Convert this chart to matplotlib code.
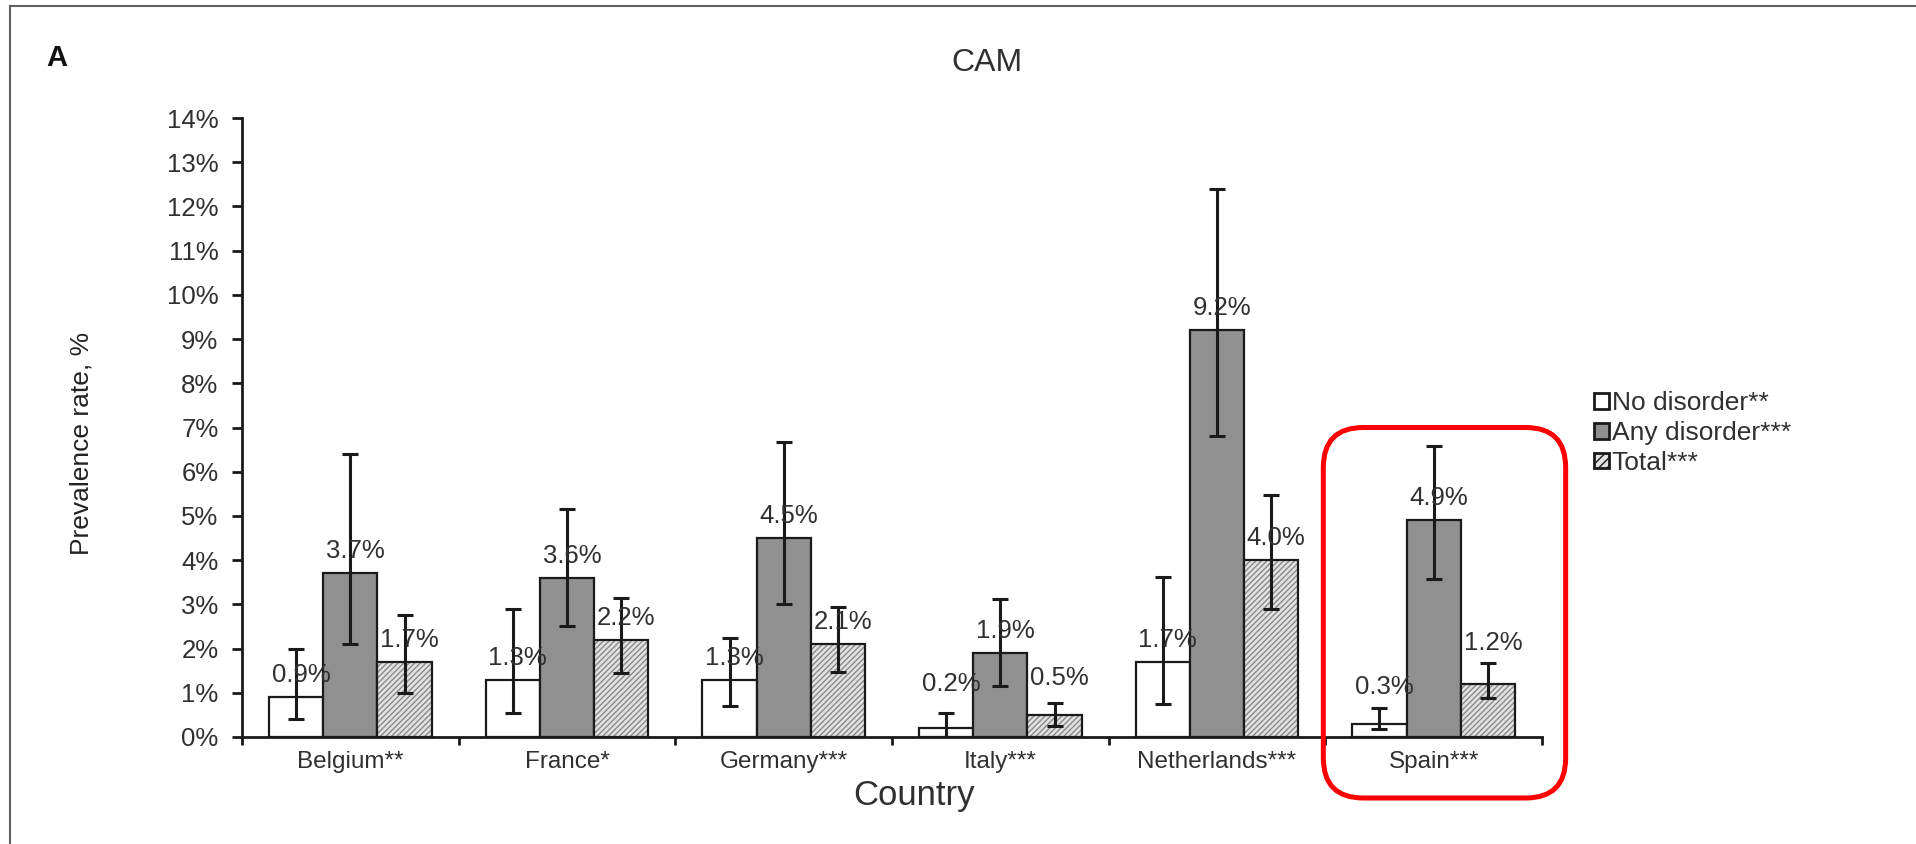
import matplotlib
matplotlib.use("Agg")
import matplotlib.pyplot as plt
from matplotlib.patches import FancyBboxPatch, Patch
from matplotlib.lines import Line2D
import numpy as np

plt.rcParams['font.family'] = ['Liberation Sans', 'DejaVu Sans']

# prevalence of CAM use per country, with 95% CI
countries = ['Belgium**', 'France*', 'Germany***', 'Italy***', 'Netherlands***', 'Spain***']
series = ['No disorder**', 'Any disorder***', 'Total***']

no_disorder = [0.9, 1.3, 1.3, 0.2, 1.7, 0.3]
no_disorder_lo = [0.4, 0.55, 0.7, 0.0, 0.75, 0.19]
no_disorder_hi = [2.0, 2.9, 2.25, 0.55, 3.62, 0.65]

any_disorder = [3.7, 3.6, 4.5, 1.9, 9.2, 4.9]
any_disorder_lo = [2.1, 2.5, 3.0, 1.15, 6.8, 3.57]
any_disorder_hi = [6.4, 5.15, 6.67, 3.12, 12.4, 6.58]

total = [1.7, 2.2, 2.1, 0.5, 4.0, 1.2]
total_lo = [1.0, 1.45, 1.46, 0.25, 2.9, 0.89]
total_hi = [2.75, 3.15, 2.93, 0.78, 5.47, 1.67]

ytick_vals = list(range(0, 15))

# extra lift (pixels) for the few labels that sit higher above their bars
label_lift = {(3, 0): 22, (3, 2): 15, (5, 0): 15, (5, 2): 19}

W, H = 1916, 844
fig = plt.figure(figsize=(W / 100, H / 100), dpi=100)
ax = fig.add_axes([242 / W, 1 - 737 / H, 1300 / W, (737 - 118) / H])

txt = '#303030'
x = np.arange(len(countries))
bw = 0.25
vals = [no_disorder, any_disorder, total]
los = [no_disorder_lo, any_disorder_lo, total_lo]
his = [no_disorder_hi, any_disorder_hi, total_hi]

# white, grey and hatched bars
ax.bar(x - bw, no_disorder, bw, color='white', edgecolor='#1a1a1a', linewidth=1.6, zorder=2)
ax.bar(x, any_disorder, bw, color='#909090', edgecolor='#1a1a1a', linewidth=1.6, zorder=2)
ax.bar(x + bw, total, bw, color='#e2e2e2', edgecolor='#8a8a8a', hatch='//////', linewidth=0, zorder=2)
ax.bar(x + bw, total, bw, fill=False, edgecolor='#1a1a1a', linewidth=1.6, zorder=3)

for k in range(3):
    v = np.array(vals[k])
    lo = np.array(los[k])
    hi = np.array(his[k])
    ax.errorbar(x + (k - 1) * bw, v, yerr=[v - lo, hi - v], fmt='none',
                ecolor='#1a1a1a', elinewidth=2.2, capsize=6, capthick=2.2, zorder=4)
    for i, val in enumerate(v):
        lift = label_lift.get((i, k), 0)
        ax.annotate(f'{val:.1f}%', (x[i] + (k - 1) * bw, val),
                    xytext=(3.6, (15 + lift) * 0.72), textcoords='offset points',
                    ha='center', va='baseline', fontsize=18.5, color=txt, zorder=5)

ax.set_xlim(-0.5, len(countries) - 0.5)
ax.set_ylim(0, 14)
ax.set_yticks(ytick_vals)
ax.set_yticklabels([f'{t}%' for t in ytick_vals])
ax.set_xticks(x)
ax.set_xticklabels(countries)
ax.set_xticks(np.arange(-0.5, len(countries)), minor=True)
ax.tick_params(axis='x', which='major', length=0, pad=10, labelsize=17.5, labelcolor=txt)
ax.tick_params(axis='x', which='minor', length=6, width=2, direction='out', color='#1a1a1a')
ax.tick_params(axis='y', length=7, width=2, direction='out', pad=10, labelsize=18.5,
               labelcolor=txt, color='#1a1a1a')
for s in ['top', 'right']:
    ax.spines[s].set_visible(False)
for s in ['left', 'bottom']:
    ax.spines[s].set_linewidth(2)
    ax.spines[s].set_color('#1a1a1a')

fig.text(987 / W, 1 - 63 / H, 'CAM', ha='center', va='center', fontsize=23, color=txt)
fig.text(46 / W, 1 - 58 / H, 'A', ha='left', va='center', fontsize=21, fontweight='bold', color='#111111')
fig.text(82 / W, 1 - 443 / H, 'Prevalence rate, %', rotation=90, ha='center', va='center',
         fontsize=19, color='#222222')
fig.text(914 / W, 1 - 795 / H, 'Country', ha='center', va='center', fontsize=25, color=txt)

handles = [Patch(facecolor='white', edgecolor='#1a1a1a', linewidth=2),
           Patch(facecolor='#909090', edgecolor='#1a1a1a', linewidth=2),
           Patch(facecolor='#e2e2e2', edgecolor='#1a1a1a', hatch='////', linewidth=2)]
fig.legend(handles, series, loc='upper left', bbox_to_anchor=(1581 / W, 1 - 378 / H),
           frameon=False, borderpad=0, handlelength=0.55, handleheight=0.55,
           handletextpad=0.12, labelspacing=0.22, fontsize=19, labelcolor=txt)

# rounded red box around the Spain group
fig.canvas.draw()
p0 = ax.transData.transform((4.5, 0))
p1 = ax.transData.transform((5.6, 7.0))
box = FancyBboxPatch((p0[0] - 2, p0[1] - 61), p1[0] - p0[0] + 4, p1[1] - p0[1] + 61,
                     boxstyle='round,pad=0,rounding_size=40', transform=None,
                     fill=False, edgecolor='#ff0000', linewidth=3.6, zorder=10)
fig.add_artist(box)

# thin page frame on the left and top
fig.add_artist(Line2D([10 / W, 10 / W], [0, 1 - 6 / H], color='#606060', linewidth=1.5))
fig.add_artist(Line2D([10 / W, 1], [1 - 6 / H, 1 - 6 / H], color='#606060', linewidth=1.5))

fig.savefig('out.png', dpi=100)
